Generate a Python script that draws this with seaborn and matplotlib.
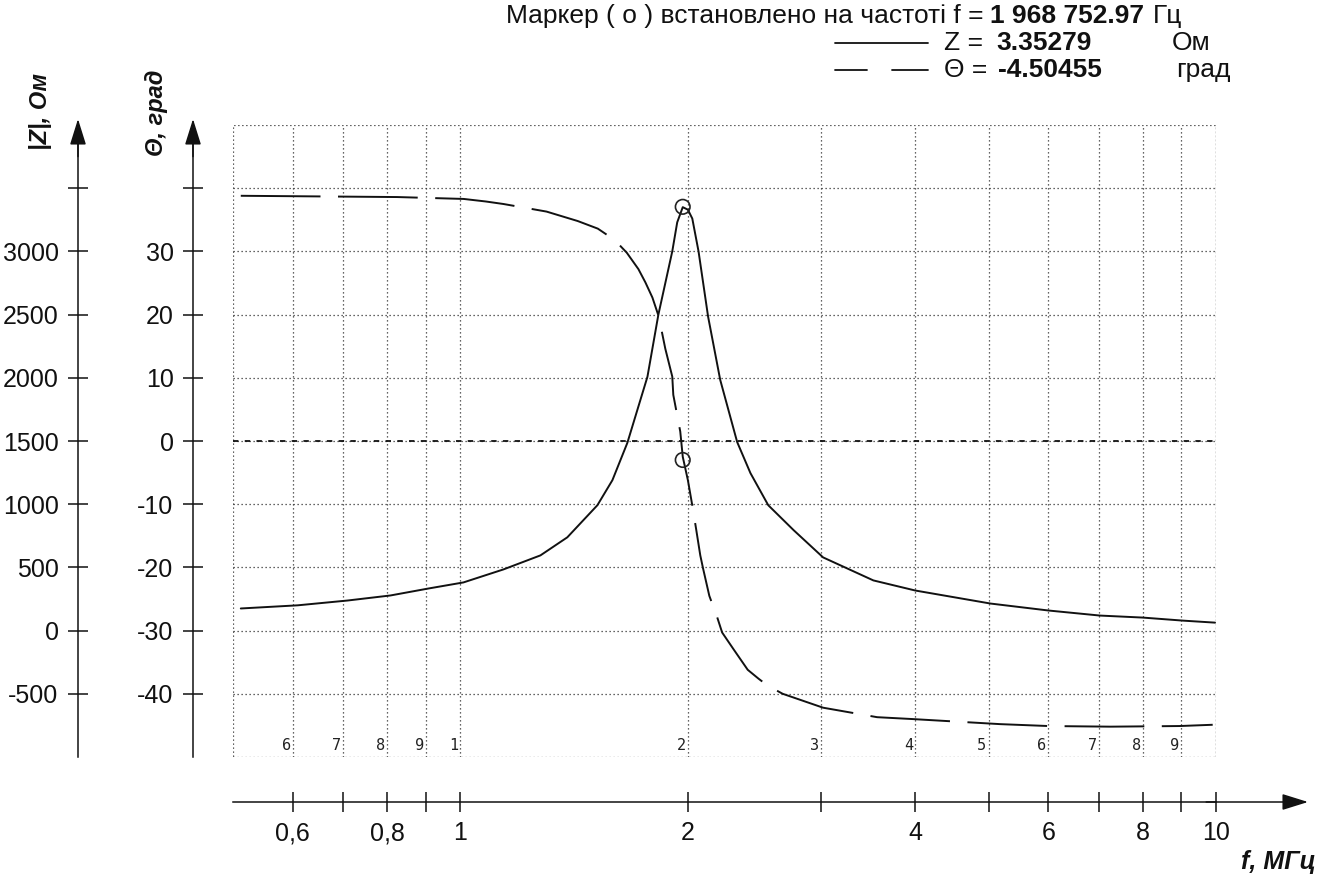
import numpy as np
import pandas as pd
import matplotlib
matplotlib.use("Agg")
import matplotlib.pyplot as plt
import seaborn as sns
from matplotlib.ticker import FixedLocator, FixedFormatter, NullFormatter
from matplotlib.lines import Line2D
from matplotlib.patches import Rectangle

# ---------------- data ----------------
freq_z = [0.512, 0.609, 0.709, 0.808, 0.907, 1.009, 1.14, 1.276, 1.385, 1.518,
          1.589, 1.663, 1.768, 1.828, 1.907, 1.936, 1.969, 2.0, 2.027,
          2.066, 2.127, 2.207, 2.324, 2.42, 2.555, 2.76, 3.02, 3.52, 4.0,
          5.03, 6.0, 7.02, 8.0, 9.04, 9.97]
z_vals = [175, 200, 238, 278, 333, 381, 484, 595, 738, 992,
          1190, 1485, 2008, 2500, 3000, 3230, 3350, 3330, 3260,
          3000, 2484, 1984, 1492, 1246, 992, 795, 579, 397, 317,
          214, 159, 119, 103, 79, 63]

freq_t = [0.512, 0.825, 1.01, 1.08, 1.14, 1.30, 1.43, 1.52, 1.60, 1.66,
          1.72, 1.757, 1.795, 1.83, 1.867, 1.907, 1.913, 1.954, 1.969, 2.0,
          2.027, 2.05, 2.077, 2.095, 2.135, 2.187, 2.22, 2.30, 2.40, 2.48,
          2.55, 2.67, 3.02, 3.56, 3.97, 5.18, 6.0, 7.25, 8.95, 9.9]
theta = [38.8, 38.6, 38.3, 37.9, 37.5, 36.3, 34.8, 33.6, 31.8, 29.8,
         27.2, 25.1, 22.7, 19.7, 14.6, 10.2, 7.3, 1.5, -2.5, -6.2,
         -10.2, -13.8, -18.1, -20.2, -24.5, -27.9, -30.3, -33.0, -36.2, -37.6,
         -38.7, -40.0, -42.2, -43.7, -44.0, -44.8, -45.1, -45.2, -45.1, -44.9]

marker_f = 1.96875297
marker_z = 3352.79
marker_theta = -3.0

x_major = [0.6, 0.8, 1, 2, 4, 6, 8, 10]
x_major_labels = ["0,6", "0,8", "1", "2", "4", "6", "8", "10"]
x_minor = [0.7, 0.9, 3, 5, 7, 9]
grid_f = [0.6, 0.7, 0.8, 0.9, 1, 2, 3, 4, 5, 6, 7, 8, 9]
grid_digits = ["6", "7", "8", "9", "1", "2", "3", "4", "5", "6", "7", "8", "9"]

theta_ticks = [-40, -30, -20, -10, 0, 10, 20, 30, 40]
theta_ticklabels = ["-40", "-30", "-20", "-10", "0", "10", "20", "30", ""]
z_ticks = [-500, 0, 500, 1000, 1500, 2000, 2500, 3000, 3500]
z_ticklabels = ["-500", "0", "500", "1000", "1500", "2000", "2500", "3000", ""]

# ---------------- style ----------------
sns.set_style("white")
plt.rcParams["font.family"] = ["Liberation Sans", "DejaVu Sans"]

W, H = 1325, 888
def px(x): return x / W
def py(y): return 1 - y / H

L, R, T, B = 233, 1216, 125, 757
fig = plt.figure(figsize=(W / 100, H / 100), dpi=100)
ax = fig.add_axes([px(L), py(B), (R - L) / W, (B - T) / H])
ax.set_facecolor("white")
ax.set_xscale("log")
ax_z = ax.twinx()

INK = "#111111"

# curves
sns.lineplot(x=freq_z, y=z_vals, ax=ax_z, color=INK, lw=1.4, estimator=None)
sns.lineplot(x=freq_t, y=theta, ax=ax, color=INK, lw=1.4, estimator=None)
ax.get_lines()[-1].set_dashes([41, 9])

sns.scatterplot(x=[marker_f], y=[marker_z], ax=ax_z, s=110, facecolors="none",
                edgecolor="#222222", linewidth=1.2, zorder=5)
sns.scatterplot(x=[marker_f], y=[marker_theta], ax=ax, s=110, facecolors="none",
                edgecolor="#222222", linewidth=1.2, zorder=5)

ax.set_xlim(0.5, 10)
ax.set_ylim(-50, 50)
ax_z.set_ylim(-1000, 4000)
ax.set_xlabel("")
ax.set_ylabel("")
ax_z.set_ylabel("")

# grid
grid_kw = dict(color="#333333", linestyle=(0, (1, 2.2)), linewidth=0.9)
ax.grid(True, axis="x", which="both", **grid_kw)
ax.grid(True, axis="y", which="major", **grid_kw)
ax.axhline(0, color="#111111", lw=1.3, dashes=(3, 3.5), zorder=1.5)
ax.add_patch(Rectangle((0, 0), 1, 1, transform=ax.transAxes, fill=False,
                       edgecolor="#333333", lw=0.9, linestyle=(0, (1, 2.2)),
                       zorder=1))
ax.set_axisbelow(True)

# ticks
ax.xaxis.set_major_locator(FixedLocator(x_major))
ax.xaxis.set_major_formatter(FixedFormatter(x_major_labels))
ax.xaxis.set_minor_locator(FixedLocator(x_minor))
ax.xaxis.set_minor_formatter(NullFormatter())
ax.set_yticks(theta_ticks)
ax.set_yticklabels(theta_ticklabels)
ax_z.set_yticks(z_ticks)
ax_z.set_yticklabels(z_ticklabels)

tick_kw = dict(direction="inout", length=14, width=1.1, color=INK,
               labelsize=18, pad=7, labelcolor=INK)
ax.tick_params(axis="x", which="both", bottom=True, top=False, **tick_kw)
ax.tick_params(axis="y", which="major", left=True, right=False, **tick_kw)
ax.tick_params(axis="y", which="minor", left=False, right=False)
ax_z.yaxis.tick_left()
ax_z.tick_params(axis="y", which="major", left=True, right=False,
                 labelleft=True, labelright=False, **tick_kw)
ax_z.tick_params(axis="y", which="minor", left=False, right=False)

# spines
pw = R - L
for s in ["top", "right"]:
    ax.spines[s].set_visible(False)
for s in ["top", "right", "bottom"]:
    ax_z.spines[s].set_visible(False)
ax.spines["left"].set_position(("axes", (193 - L) / pw))
ax.spines["bottom"].set_position(("outward", (802 - B) * 0.72))
ax_z.spines["left"].set_visible(True)
ax_z.spines["left"].set_position(("axes", (78 - L) / pw))
for sp in [ax.spines["left"], ax.spines["bottom"], ax_z.spines["left"]]:
    sp.set_color(INK)
    sp.set_linewidth(1.1)

# arrow heads
aprops = dict(arrowstyle="-|>,head_length=0.8,head_width=0.25", mutation_scale=20,
              color=INK, lw=1.1, shrinkA=0, shrinkB=0)
for xs in [(193 - L) / pw, (78 - L) / pw]:
    ax.annotate("", xy=(xs, 1 + 6 / (B - T)), xytext=(xs, 0.95),
                xycoords="axes fraction", arrowprops=aprops, annotation_clip=False)
yb = -(802 - B) / (B - T)
ax.annotate("", xy=((1308 - L) / pw, yb), xytext=(0.99, yb),
            xycoords="axes fraction", arrowprops=aprops, annotation_clip=False)

# small digits inside the plot
for f, d in zip(grid_f, grid_digits):
    ax.annotate(d, (f, -48.2), xytext=(-1.5, 0), textcoords="offset points",
                ha="right", va="center", fontsize=11, color="#222222",
                family=["DejaVu Sans Mono"])

# axis titles
bi = dict(fontweight="bold", fontstyle="italic", color=INK)
fig.text(px(41), py(112), "|Z|, Ом", rotation=90, ha="center", va="center",
         fontsize=17, **bi)
fig.text(px(156), py(113), "Θ, град", rotation=90, ha="center", va="center",
         fontsize=17, **bi)
fig.text(px(1316), py(862), "f, МГц", ha="right", va="center", fontsize=18, **bi)

# marker / legend block at top
r1, r2, r3 = 16, 43, 70
fs = 19
fig.text(px(983), py(r1), "Маркер ( о ) встановлено на частоті f =",
         ha="right", va="center", fontsize=fs, color=INK)
fig.text(px(990), py(r1), "1 968 752.97", ha="left", va="center",
         fontsize=fs, fontweight="bold", color=INK)
fig.text(px(1153), py(r1), "Гц", ha="left", va="center", fontsize=fs, color=INK)

fig.add_artist(Line2D([px(835), px(928)], [py(r2), py(r2)], color=INK, lw=1.3,
                      transform=fig.transFigure))
fig.text(px(944), py(r2), "Z =", ha="left", va="center", fontsize=fs, color=INK)
fig.text(px(996), py(r2), "3.35279", ha="left", va="center", fontsize=fs,
         fontweight="bold", color=INK)
fig.text(px(1172), py(r2), "Ом", ha="left", va="center", fontsize=fs, color=INK)

for a, b in [(835, 867), (892, 928)]:
    fig.add_artist(Line2D([px(a), px(b)], [py(r3), py(r3)], color=INK, lw=1.3,
                          transform=fig.transFigure))
fig.text(px(944), py(r3), "Θ =", ha="left", va="center", fontsize=fs, color=INK)
fig.text(px(998), py(r3), "-4.50455", ha="left", va="center", fontsize=fs,
         fontweight="bold", color=INK)
fig.text(px(1176), py(r3), "град", ha="left", va="center", fontsize=fs, color=INK)

fig.savefig("out.png", dpi=100)
